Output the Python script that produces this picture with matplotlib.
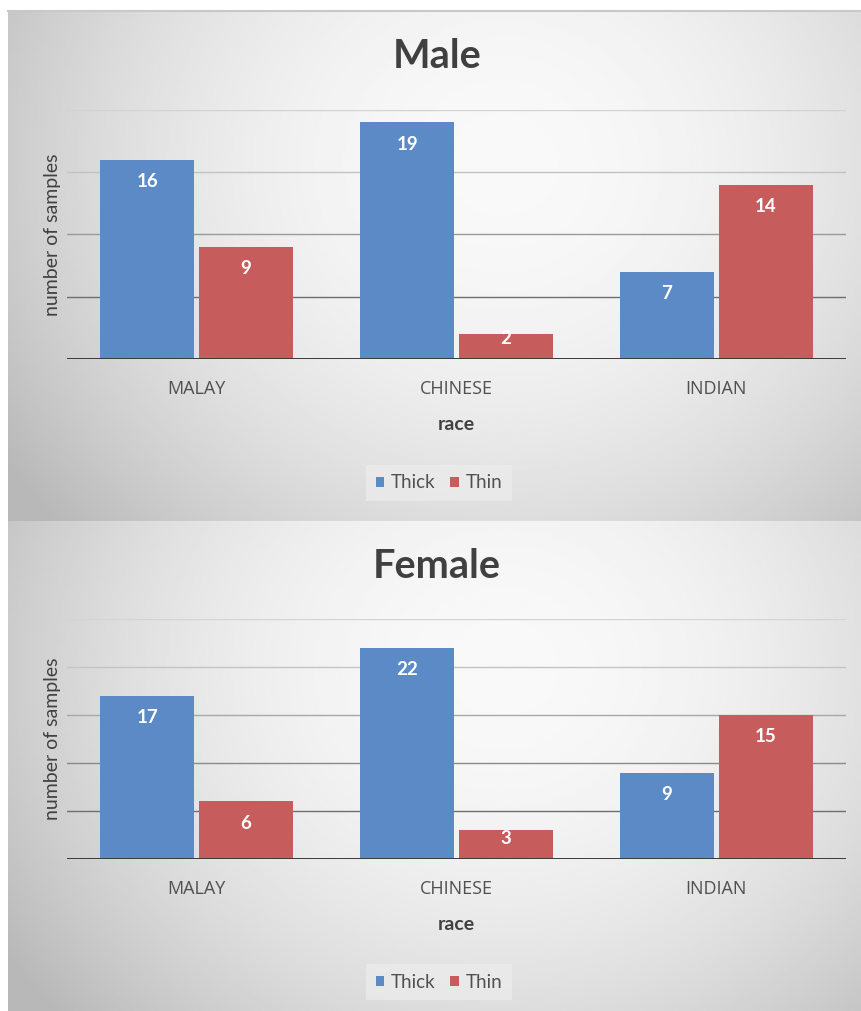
import numpy as np
import matplotlib.pyplot as plt

# 数据
races = ['MALAY', 'CHINESE', 'INDIAN']
male_thick = [16, 19, 7]
male_thin = [9, 2, 14]
female_thick = [17, 22, 9]
female_thin = [6, 3, 15]

BLUE = '#5B8AC6'
RED = '#C65C5B'
W, H = 861, 1011

plt.rcParams['font.family'] = ['Lato', 'DejaVu Sans']

fig = plt.figure(figsize=(W / 100, H / 100), dpi=100)
fig.patch.set_facecolor('white')


def px_box(x0, y0, x1, y1):
    # 像素坐标 -> figure 坐标
    return [x0 / W, 1 - y1 / H, (x1 - x0) / W, (y1 - y0) / H]


def panel_background(y0, y1):
    bg = fig.add_axes(px_box(8, y0, W, y1))
    bg.set_axis_off()
    xx, yy = np.meshgrid(np.linspace(0, 1, 300), np.linspace(0, 1, 300))
    r2 = ((xx - 0.58) / 0.62) ** 2 + ((yy - 0.30) / 0.95) ** 2
    img = np.clip(0.975 - 0.2 * r2, 0.72, 1.0)
    bg.imshow(img, cmap='gray', vmin=0, vmax=1, aspect='auto',
              extent=[0, 1, 1, 0], interpolation='bilinear')
    bg.set_xlim(0, 1)
    bg.set_ylim(1, 0)
    return bg


def draw_panel(y0, y1, plot_top, plot_bottom, legend_y, title, thick, thin, ymax, grid_cols):
    panel_background(y0, y1)

    ax = fig.add_axes(px_box(67, plot_top, 846, plot_bottom))
    ax.patch.set_alpha(0)
    x = np.arange(len(races))
    bw = 0.362
    off = 0.19
    b1 = ax.bar(x - off, thick, bw, color=BLUE, zorder=3, label='Thick')
    b2 = ax.bar(x + off, thin, bw, color=RED, zorder=3, label='Thin')
    ax.set_xlim(-0.5, 2.5)
    ax.set_ylim(0, ymax)

    # 网格线
    for lvl, c in zip(range(5, ymax + 1, 5), grid_cols):
        ax.axhline(lvl, color=c, lw=1.0, zorder=1)
    ax.axhline(0, color='#3a3a3a', lw=1.4, zorder=4)

    for s in ax.spines.values():
        s.set_visible(False)
    ax.set_yticks([])
    ax.set_xticks(x)
    ax.set_xticklabels(races, fontsize=13, color='#505050',
                       family=['Open Sans', 'DejaVu Sans'])
    ax.tick_params(axis='x', length=0, pad=15)
    ax.set_xlabel('race', fontsize=14, fontweight='bold', color='#404040', labelpad=13)
    ax.set_ylabel('number of samples', fontsize=14, color='#404040', labelpad=4)

    # 柱内数值
    ppu = (plot_bottom - plot_top) / ymax
    for bars, vals in ((b1, thick), (b2, thin)):
        for rect, v in zip(bars, vals):
            hpx = v * ppu
            d = min(22, hpx - 21)
            ax.annotate(str(v), (rect.get_x() + rect.get_width() / 2, v),
                        xytext=(0, -d * 0.72), textcoords='offset points',
                        ha='center', va='center', color='white',
                        fontsize=13.5, fontweight='bold', zorder=5)

    fig.text(437 / W, 1 - (y0 + 45) / H, title, ha='center', va='center',
             fontsize=28.5, fontweight='bold', color='#404040')

    leg = ax.legend(loc='center', bbox_to_anchor=(439 / W, 1 - legend_y / H),
                    bbox_transform=fig.transFigure, ncol=2, frameon=True,
                    fontsize=13.5, handlelength=0.45, handleheight=0.45,
                    handletextpad=0.35, columnspacing=0.8, borderpad=0.5,
                    fancybox=False, labelcolor='#505050')
    leg.get_frame().set_facecolor('#ececec')
    leg.get_frame().set_edgecolor('none')
    leg.get_frame().set_alpha(0.75)


draw_panel(11, 521, 110, 359, 483, 'Male', male_thick, male_thin, 20,
           ['#6e6e6e', '#9a9a9a', '#c2c2c2', '#d2d2d2'])
draw_panel(521, 1011, 619, 859, 982, 'Female', female_thick, female_thin, 25,
           ['#6e6e6e', '#8a8a8a', '#a8a8a8', '#c4c4c4', '#d4d4d4'])

# 顶部细边框
fig.add_artist(plt.Line2D([8 / W, 1], [1 - 11 / H, 1 - 11 / H], color='#c8c8c8', lw=1.5))

fig.savefig('out.png', dpi=100)
